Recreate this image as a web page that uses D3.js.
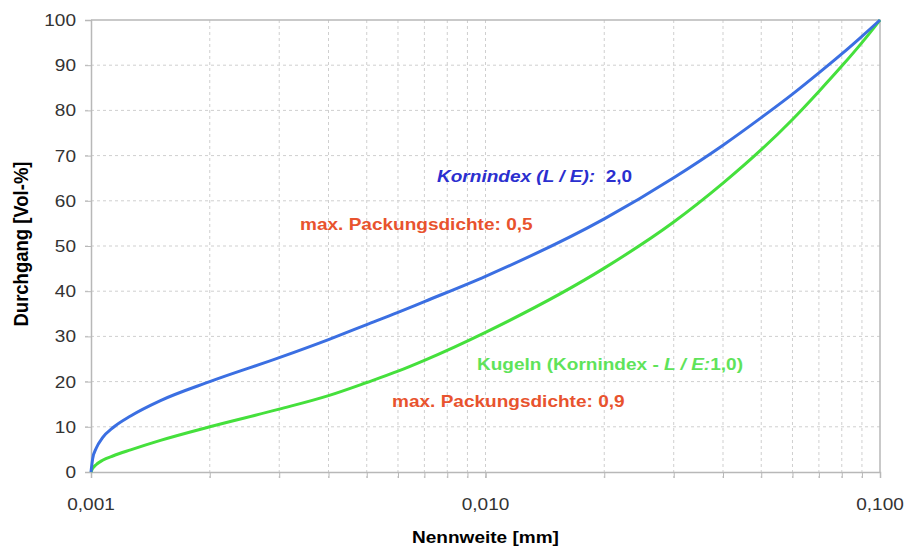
<!DOCTYPE html>
<html>
<head>
<meta charset="utf-8">
<script src="https://cdn.jsdelivr.net/npm/d3@7"></script>
<style>
  body { margin: 0; background: #fff; }
  text { font-family: "Liberation Sans", Arial, sans-serif; }
</style>
</head>
<body>
<svg id="chart"></svg>
<script>
var w = 907,
    h = 548,
    mLeft = 91, mRight = 880, mTop = 20, mBottom = 472,
    stretch = 1.12;

// Nennweite [mm] and Durchgang [Vol-%]
var sizes = [0.001, 0.00101, 0.00103, 0.00107, 0.00114, 0.00126, 0.0015, 0.002, 0.003, 0.004,
             0.005, 0.006, 0.007, 0.01, 0.02, 0.03, 0.04, 0.05, 0.06, 0.07, 0.08, 0.09, 0.1];
var kornindex2 = [0, 3.0, 5.2, 7.6, 9.9, 12.4, 15.8, 20.0, 25.3, 29.3,
                  32.6, 35.3, 37.7, 43.3, 56.0, 65.1, 72.3, 78.4, 83.6, 88.3, 92.5, 96.4, 100];
var kugeln = [0, 0.8, 1.6, 2.6, 3.6, 4.9, 7.0, 10.0, 13.9, 16.9,
              19.8, 22.3, 24.7, 30.9, 45.1, 55.3, 63.9, 71.3, 78.0, 84.2, 89.8, 95.0, 100];

var xTicks = [0.001, 0.01, 0.1];
var xTickLabels = ["0,001", "0,010", "0,100"];
var xMinor = [0.002, 0.003, 0.004, 0.005, 0.006, 0.007, 0.008, 0.009, 0.01,
              0.02, 0.03, 0.04, 0.05, 0.06, 0.07, 0.08, 0.09];
var yTicks = [0, 10, 20, 30, 40, 50, 60, 70, 80, 90, 100];

var x = d3.scaleLog().domain([0.001, 0.1]).range([mLeft, mRight]);
var y = d3.scaleLinear().domain([0, 100]).range([mBottom, mTop]);

var svg = d3.select("#chart")
  .attr("width", w)
  .attr("height", h);

// grid
svg.append("g").selectAll("line")
  .data(xMinor)
  .enter().append("line")
  .attr("x1", function(d) { return x(d); })
  .attr("x2", function(d) { return x(d); })
  .attr("y1", mTop)
  .attr("y2", mBottom + 6)
  .attr("stroke", "#cfcfcf")
  .attr("stroke-width", 1)
  .attr("stroke-dasharray", "3,3");

svg.append("g").selectAll("line")
  .data(yTicks.slice(1, -1))
  .enter().append("line")
  .attr("x1", mLeft - 6)
  .attr("x2", mRight)
  .attr("y1", function(d) { return y(d); })
  .attr("y2", function(d) { return y(d); })
  .attr("stroke", "#cfcfcf")
  .attr("stroke-width", 1)
  .attr("stroke-dasharray", "3,3");

// axes
var yAxis = d3.axisLeft(y).tickValues(yTicks).tickSize(6).tickFormat(function() { return ""; });
var gy = svg.append("g").attr("transform", "translate(" + mLeft + ",0)").call(yAxis);

var xAxis = d3.axisBottom(x).tickValues(xMinor.concat(xTicks)).tickSize(6).tickFormat(function() { return ""; });
var gx = svg.append("g").attr("transform", "translate(0," + mBottom + ")").call(xAxis);

[gx, gy].forEach(function(g) {
  g.select(".domain").attr("stroke", "#b8b8b8").attr("stroke-width", 1.5);
  g.selectAll(".tick line").attr("stroke", "#b8b8b8");
});

// tick labels (text is a bit wider than tall in the original)
svg.append("g").selectAll("text")
  .data(yTicks)
  .enter().append("text")
  .attr("transform", function(d) { return "translate(76," + (y(d) + 6) + ")scale(" + stretch + ",1)"; })
  .attr("text-anchor", "end")
  .attr("fill", "#333")
  .style("font-size", "17px")
  .text(function(d) { return d; });

svg.append("g").selectAll("text")
  .data(xTicks)
  .enter().append("text")
  .attr("transform", function(d) { return "translate(" + x(d) + ",510)scale(" + stretch + ",1)"; })
  .attr("text-anchor", "middle")
  .attr("fill", "#333")
  .style("font-size", "17px")
  .text(function(d, i) { return xTickLabels[i]; });

// frame top/right
svg.append("path")
  .attr("d", "M" + mLeft + "," + mTop + "H" + mRight + "V" + mBottom)
  .attr("fill", "none")
  .attr("stroke", "#b8b8b8")
  .attr("stroke-width", 1.5);

// curves
var line = d3.line()
  .x(function(d) { return x(d[0]); })
  .y(function(d) { return y(d[1]); })
  .curve(d3.curveMonotoneX);

svg.append("path")
  .datum(d3.zip(sizes, kugeln))
  .attr("d", line)
  .attr("fill", "none")
  .attr("stroke", "#45e03c")
  .attr("stroke-width", 3);

svg.append("path")
  .datum(d3.zip(sizes, kornindex2))
  .attr("d", line)
  .attr("fill", "none")
  .attr("stroke", "#3b6fe2")
  .attr("stroke-width", 3);

// axis titles
svg.append("text")
  .attr("transform", "translate(" + (mLeft + mRight) / 2 + ",543)scale(" + stretch + ",1)")
  .attr("text-anchor", "middle")
  .style("font-size", "17px")
  .style("font-weight", "bold")
  .text("Nennweite [mm]");

svg.append("text")
  .attr("transform", "translate(28,244)rotate(-90)scale(1," + stretch + ")")
  .attr("text-anchor", "middle")
  .style("font-size", "18.5px")
  .style("font-weight", "bold")
  .text("Durchgang [Vol-%]");

// annotations
function note(px, py, color) {
  return svg.append("text")
    .attr("transform", "translate(" + px + "," + py + ")scale(" + stretch + ",1)")
    .attr("fill", color)
    .style("font-size", "17px")
    .style("font-weight", "bold");
}

var t1 = note(437, 182, "#2b2fcf");
t1.append("tspan").style("font-style", "italic").text("Kornindex (L / E):");
t1.append("tspan").text("\u00a0\u00a02,0");

note(300, 230, "#e8532e").text("max. Packungsdichte: 0,5");

var t2 = note(477, 370, "#5fe35a");
t2.append("tspan").text("Kugeln (Kornindex - ");
t2.append("tspan").style("font-style", "italic").text("L / E:");
t2.append("tspan").text("1,0)");

note(392, 407, "#e8532e").text("max. Packungsdichte: 0,9");
</script>
</body>
</html>
